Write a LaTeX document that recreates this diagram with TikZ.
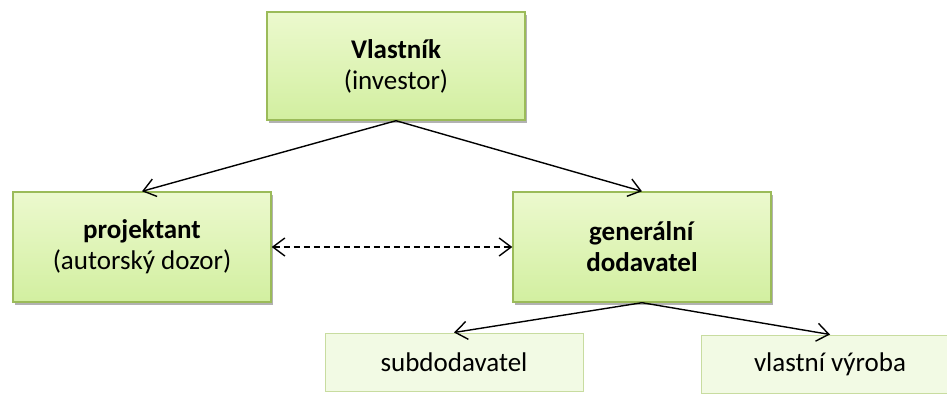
\documentclass[tikz,border=0pt]{standalone}
\usepackage{fontspec}
\setmainfont{Carlito}
\usetikzlibrary{arrows.meta,shadows}
\definecolor{boxline}{RGB}{155,187,89}
\definecolor{boxtop}{RGB}{236,249,206}
\definecolor{boxbottom}{RGB}{210,239,160}
\definecolor{leafline}{RGB}{200,220,160}
\definecolor{leaffill}{RGB}{242,250,228}
\begin{document}
\begin{tikzpicture}[x=1pt, y=-1pt,
    mainbox/.style={draw=boxline, line width=1.4pt, top color=boxtop, bottom color=boxbottom,
        minimum width=258pt, minimum height=108pt, align=center,
        font=\fontsize{27}{31}\selectfont,
        drop shadow={shadow xshift=2pt, shadow yshift=-2.5pt, opacity=0.3, fill=black}},
    leafbox/.style={draw=leafline, line width=1pt, fill=leaffill,
        minimum width=258pt, minimum height=58pt, font=\fontsize{27}{31}\selectfont},
    arr/.style={line width=1.4pt, -{Straight Barb[length=12pt, width=18pt]}}]
    \clip (0,0) rectangle (947,394);
    \node[mainbox] (owner) at (396,66) {\textbf{Vlastník}\\(investor)};
    \node[mainbox, minimum height=110pt] (designer) at (142,247) {\textbf{projektant}\\(autorský dozor)};
    \node[mainbox, minimum height=110pt] (contractor) at (642,247) {\textbf{generální}\\\textbf{dodavatel}};
    \node[leafbox] (subcontr) at (454,362) {subdodavatel};
    \node[leafbox] (ownprod) at (830,364) {vlastní výroba};
    \draw[arr] (owner.south) -- (designer.north);
    \draw[arr] (owner.south) -- (contractor.north);
    \draw[arr, {Straight Barb[length=12pt, width=18pt]}-{Straight Barb[length=12pt, width=18pt]},
        dash pattern=on 6pt off 4pt] (designer.east) -- (contractor.west);
    \draw[arr] (contractor.south) -- (subcontr.north);
    \draw[arr] (contractor.south) -- (ownprod.north);
\end{tikzpicture}
\end{document}
